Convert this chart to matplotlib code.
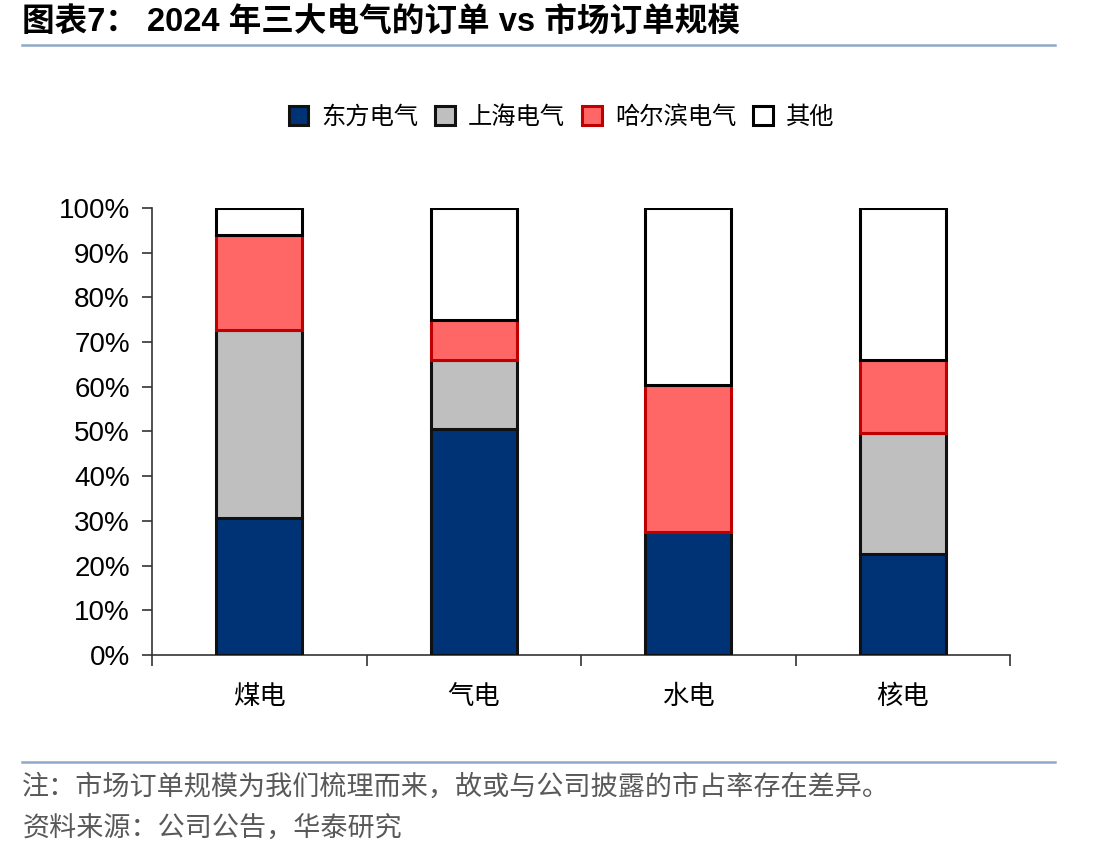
import numpy as np
import matplotlib.pyplot as plt
from matplotlib.lines import Line2D
from matplotlib.patches import Patch

plt.rcParams['font.family'] = ['Liberation Sans', 'Noto Sans CJK SC', 'DejaVu Sans']

categories = ["煤电", "气电", "水电", "核电"]
series_names = ["东方电气", "上海电气", "哈尔滨电气", "其他"]
dongfang = [30.6, 50.6, 27.5, 22.7]
shanghai = [42.1, 15.4, 0.0, 26.9]
harbin = [21.3, 8.9, 32.9, 16.4]
others = [6.0, 25.1, 39.6, 34.0]

fills = ["#003376", "#BFBFBF", "#FF6666", "#FFFFFF"]
edges = ["#111111", "#111111", "#C00000", "#000000"]
yticks = [0, 10, 20, 30, 40, 50, 60, 70, 80, 90, 100]

fig = plt.figure(figsize=(11.12, 8.58), dpi=100)
ax = fig.add_axes([0.1367, 0.2366, 0.7716, 0.521])

x = np.arange(len(categories))
bottom = np.zeros(len(categories))
for vals, fc, ec in zip([dongfang, shanghai, harbin, others], fills, edges):
    vals = np.array(vals)
    mask = vals > 0
    ax.bar(x[mask], vals[mask], bottom=bottom[mask], width=0.40,
           color=fc, edgecolor=ec, linewidth=2.2, zorder=3)
    bottom += vals

ax.set_xlim(-0.5, 3.5)
ax.set_ylim(0, 100)
ax.set_yticks(yticks)
ax.set_yticklabels([f"{v}%" for v in yticks], fontsize=20)
ax.set_xticks(x)
ax.set_xticklabels(categories, fontsize=19, family=['Noto Sans CJK SC'])
ax.set_xticks(np.arange(-0.5, 4.0, 1.0), minor=True)
ax.tick_params(axis='x', which='major', length=0, pad=20)
ax.tick_params(axis='x', which='minor', length=8, width=1.2, color='#333333')
ax.tick_params(axis='y', length=7, width=1.2, color='#333333', pad=9)
for s in ['top', 'right']:
    ax.spines[s].set_visible(False)
for s in ['left', 'bottom']:
    ax.spines[s].set_color('#333333')
    ax.spines[s].set_linewidth(1.2)

handles = [Patch(facecolor=fc, edgecolor=ec, linewidth=2.2) for fc, ec in zip(fills, edges)]
fig.legend(handles, series_names, loc='center', bbox_to_anchor=(0.505, 0.864), ncol=4,
           frameon=False, handlelength=0.8, handleheight=0.8, handletextpad=0.55,
           columnspacing=0.7, prop={'family': ['Noto Sans CJK SC'], 'size': 17.5})

fig.text(0.02, 0.974, "图表7： 2024 年三大电气的订单 vs 市场订单规模", fontsize=23.5,
         fontweight='bold', va='center', ha='left')
fig.add_artist(Line2D([0.02, 0.949], [0.947, 0.947], color='#8EA9C8', linewidth=1.8))
fig.add_artist(Line2D([0.02, 0.949], [0.112, 0.112], color='#8EA9C8', linewidth=1.8))

fig.text(0.02, 0.083, "注：市场订单规模为我们梳理而来，故或与公司披露的市占率存在差异。",
         fontsize=19.5, color='#595959', va='center', ha='left', family=['Noto Sans CJK SC'])
fig.text(0.02, 0.034, "资料来源：公司公告，华泰研究",
         fontsize=19.5, color='#595959', va='center', ha='left', family=['Noto Sans CJK SC'])

fig.savefig("out.png", dpi=100)
